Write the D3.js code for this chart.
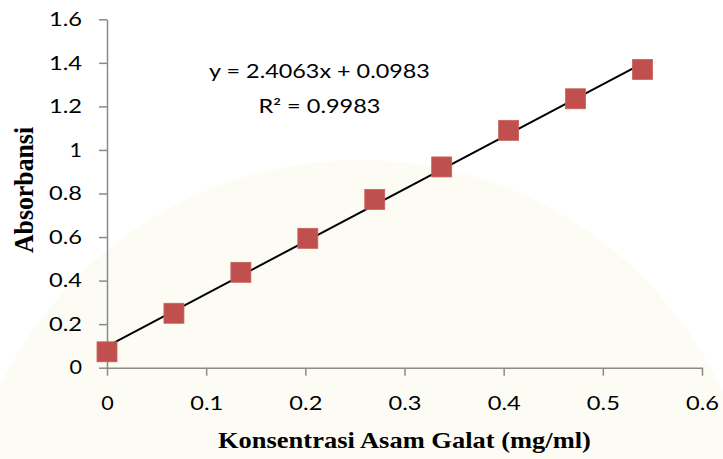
<!DOCTYPE html>
<html>
<head>
<meta charset="utf-8">
<script src="https://cdn.jsdelivr.net/npm/d3@7"></script>
<style>
  html, body { margin: 0; padding: 0; background: #ffffff; }
  svg { display: block; }
</style>
</head>
<body>
<svg id="chart" width="723" height="459"></svg>
<script>
// Gallic acid standard curve: concentration (mg/ml) vs absorbance
const concentration = [0, 0.0675, 0.135, 0.2025, 0.27, 0.3375, 0.405, 0.4725, 0.54];
const absorbance    = [0.073, 0.25, 0.438, 0.594, 0.773, 0.922, 1.09, 1.235, 1.37];
const xTicks = [0, 0.1, 0.2, 0.3, 0.4, 0.5, 0.6];
const yTicks = [0, 0.2, 0.4, 0.6, 0.8, 1, 1.2, 1.4, 1.6];
const slope = 2.4063;
const intercept = 0.0983;
const rSquared = 0.9983;

const svg = d3.select("#chart");
const W = 723, H = 459;
const sansFont = "Lato, 'Open Sans', sans-serif";
const serifFont = "'Liberation Serif', 'DejaVu Serif', serif";

// widen a text element horizontally to a given advance width,
// pivoting on its own x so the anchor point stays put
function widen(node, target) {
  const w = node.getComputedTextLength();
  if (!w) return;
  const k = target / w;
  const px = +node.getAttribute("x") || 0;
  const prev = node.getAttribute("transform") || "";
  node.setAttribute("transform",
    `${prev} translate(${px},0) scale(${k},1) translate(${-px},0)`.trim());
}

// background with a faint cream disc
svg.append("rect").attr("width", W).attr("height", H).attr("fill", "#ffffff");
svg.append("circle").attr("cx", 360).attr("cy", 560).attr("r", 400).attr("fill", "#fcfcf5");

const x = d3.scaleLinear().domain([0, 0.6]).range([107, 702]);
const y = d3.scaleLinear().domain([0, 1.6]).range([367.7, 19.3]);

const axisColor = "#8a8a8a";
const labelWidth = s => (s.length === 1 ? 12.5 : 33);

const yAxis = svg.append("g")
  .attr("transform", `translate(${x(0)},0)`)
  .call(d3.axisLeft(y).tickValues(yTicks).tickFormat(d3.format("")).tickSize(8).tickPadding(17).tickSizeOuter(0));

const xAxis = svg.append("g")
  .attr("transform", `translate(0,${y(0)})`)
  .call(d3.axisBottom(x).tickValues(xTicks).tickFormat(d3.format("")).tickSize(8).tickPadding(20).tickSizeOuter(0));

[xAxis, yAxis].forEach(g => {
  g.select(".domain").attr("stroke", axisColor).attr("stroke-width", 1.5);
  g.selectAll(".tick line").attr("stroke", axisColor).attr("stroke-width", 1.5);
  g.selectAll(".tick text")
    .attr("fill", "#000")
    .style("font-family", sansFont)
    .style("font-size", "19.5px")
    .each(function () { widen(this, labelWidth(this.textContent)); });
});

// linear trendline over the measured range
const xMax = d3.max(concentration);
svg.append("line")
  .attr("x1", x(0)).attr("y1", y(intercept))
  .attr("x2", x(xMax)).attr("y2", y(slope * xMax + intercept))
  .attr("stroke", "#000").attr("stroke-width", 2);

// square markers
const size = 20;
svg.append("g").selectAll("rect")
  .data(concentration.map((c, i) => ({ c, a: absorbance[i] })))
  .join("rect")
  .attr("x", d => x(d.c) - size / 2)
  .attr("y", d => y(d.a) - size / 2)
  .attr("width", size).attr("height", size)
  .attr("fill", "#c0504d")
  .attr("stroke", "#c8625f").attr("stroke-width", 0.8);

// regression label, two centred lines
const labelX = 319.5;
svg.append("text")
  .attr("x", labelX).attr("y", 78.3)
  .attr("text-anchor", "middle")
  .style("font-family", sansFont).style("font-size", "18.5px")
  .text(`y = ${slope}x + ${intercept}`)
  .each(function () { widen(this, 221); });
svg.append("text")
  .attr("x", labelX).attr("y", 112.7)
  .attr("text-anchor", "middle")
  .style("font-family", sansFont).style("font-size", "18.5px")
  .text(`R² = ${rSquared}`)
  .each(function () { widen(this, 122); });

// axis titles
svg.append("text")
  .attr("x", 218).attr("y", 448.3)
  .style("font-family", serifFont).style("font-weight", "bold").style("font-size", "23px")
  .text("Konsentrasi Asam Galat (mg/ml)")
  .each(function () { widen(this, 373); });

svg.append("text")
  .attr("transform", "translate(33,253) scale(1.15,1) rotate(-90)")
  .style("font-family", serifFont).style("font-weight", "bold").style("font-size", "23px")
  .text("Absorbansi")
  .each(function () { widen(this, 126); });
</script>
</body>
</html>
